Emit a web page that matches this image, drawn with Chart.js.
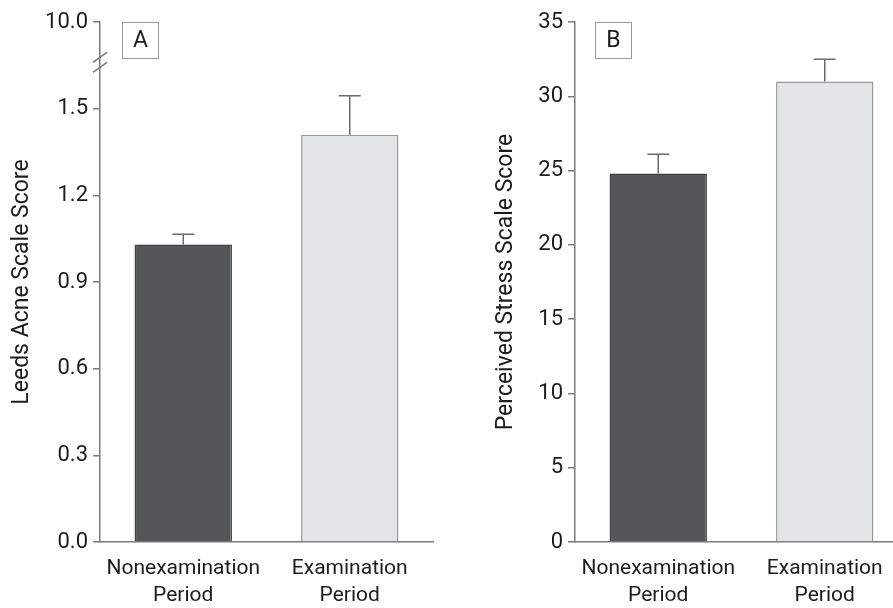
<!DOCTYPE html>
<html>
<head>
<meta charset="utf-8">
<script src="https://cdn.jsdelivr.net/npm/chart.js@4.4.1/dist/chart.umd.min.js"></script>
<style>
  html, body { margin: 0; padding: 0; background: #fff; overflow: hidden; }
  #wrap { position: relative; width: 893px; height: 608px; overflow: hidden; }
  #boxA { position: absolute; left: 0; top: 0; width: 450px; height: 608px; }
  #boxB { position: absolute; left: 450px; top: 0; width: 470px; height: 608px; }
</style>
</head>
<body>
<div id="wrap">
  <div id="boxA"><canvas id="chartA"></canvas></div>
  <div id="boxB"><canvas id="chartB"></canvas></div>
</div>
<script>
// data
const categories = [['Nonexamination', 'Period'], ['Examination', 'Period']];

const acneMeans = [1.03, 1.41];
const acneErrors = [0.035, 0.135];
const acneTickValues = [0, 0.3, 0.6, 0.9, 1.2, 1.5, 1.8];
const acneTickLabels = ['0.0', '0.3', '0.6', '0.9', '1.2', '1.5', '10.0'];
const acneBreakAt = 1.66;

const stressMeans = [24.8, 31.0];
const stressErrors = [1.3, 1.5];
const stressTickValues = [0, 5, 10, 15, 20, 25, 30, 35];
const stressTickLabels = ['0', '5', '10', '15', '20', '25', '30', '35'];

const FONT = 'Roboto, "DejaVu Sans Condensed", sans-serif';
const AXIS_COLOR = '#7a7a7a';
const TEXT_COLOR = '#1c1c1c';

// upper error whiskers with a cap
const errorBarPlugin = {
  id: 'errorBars',
  afterDatasetsDraw(chart, args, opts) {
    const ctx = chart.ctx;
    const yScale = chart.scales.y;
    const meta = chart.getDatasetMeta(0);
    const means = chart.data.datasets[0].data;
    ctx.save();
    ctx.strokeStyle = '#6a6a6a';
    ctx.lineWidth = 1.5;
    meta.data.forEach((bar, i) => {
      const yTop = yScale.getPixelForValue(means[i] + opts.errors[i]);
      ctx.beginPath();
      ctx.moveTo(bar.x, bar.y);
      ctx.lineTo(bar.x, yTop);
      ctx.moveTo(bar.x - 11, yTop);
      ctx.lineTo(bar.x + 11, yTop);
      ctx.stroke();
    });
    ctx.restore();
  }
};

// boxed panel letter
const panelLabelPlugin = {
  id: 'panelLabel',
  afterDraw(chart, args, opts) {
    if (!opts.text) return;
    const ctx = chart.ctx;
    const a = chart.chartArea;
    const x = a.left + opts.offset;
    const y = a.top;
    ctx.save();
    ctx.strokeStyle = '#9a9a9a';
    ctx.lineWidth = 1;
    ctx.strokeRect(x + 0.5, y + 0.5, 36, 36);
    ctx.fillStyle = TEXT_COLOR;
    ctx.font = '23px ' + FONT;
    ctx.textAlign = 'center';
    ctx.textBaseline = 'middle';
    ctx.fillText(opts.text, x + 18.5, y + 19.5);
    ctx.restore();
  }
};

// double slash on the y axis
const axisBreakPlugin = {
  id: 'axisBreak',
  afterDraw(chart, args, opts) {
    if (opts.at == null) return;
    const ctx = chart.ctx;
    const yScale = chart.scales.y;
    const x = chart.chartArea.left;
    const y = yScale.getPixelForValue(opts.at);
    ctx.save();
    ctx.strokeStyle = AXIS_COLOR;
    ctx.lineWidth = 1.5;
    [-5, 5].forEach(d => {
      ctx.beginPath();
      ctx.moveTo(x - 7, y + d + 5);
      ctx.lineTo(x + 7, y + d - 5);
      ctx.stroke();
    });
    ctx.restore();
  }
};

const makeChart = (canvasId, cfg) => {
  return new Chart(document.getElementById(canvasId), {
    type: 'bar',
    data: {
      labels: categories,
      datasets: [{
        data: cfg.means,
        backgroundColor: ['#545658', '#e2e4e6'],
        borderColor: ['#3f4143', '#9a9a9a'],
        borderWidth: 1.5,
        borderSkipped: 'bottom',
        categoryPercentage: 1,
        barPercentage: 0.585
      }]
    },
    options: {
      responsive: true,
      maintainAspectRatio: false,
      animation: false,
      layout: { padding: { top: cfg.padTop, right: cfg.padRight, left: 0, bottom: 0 } },
      plugins: {
        legend: { display: false },
        tooltip: { enabled: false },
        errorBars: { errors: cfg.errors },
        panelLabel: { text: cfg.letter, offset: cfg.letterOffset },
        axisBreak: { at: cfg.breakAt }
      },
      scales: {
        x: {
          grid: { display: false },
          border: { display: true, color: AXIS_COLOR, width: 1.5 },
          ticks: {
            color: TEXT_COLOR,
            font: { family: FONT, size: 21, lineHeight: 1.3 },
            padding: 5,
            maxRotation: 0,
            autoSkip: false
          },
          afterFit: (scale) => { scale.height = 66; }
        },
        y: {
          min: 0,
          max: cfg.tickValues[cfg.tickValues.length - 1],
          afterBuildTicks: (scale) => {
            scale.ticks = cfg.tickValues.map(v => ({ value: v }));
          },
          afterFit: (scale) => { scale.width = cfg.yWidth; },
          grid: {
            display: true,
            drawOnChartArea: false,
            drawTicks: true,
            tickLength: 7,
            color: AXIS_COLOR,
            lineWidth: 1.5
          },
          border: { display: true, color: AXIS_COLOR, width: 1.5 },
          ticks: {
            color: TEXT_COLOR,
            font: { family: FONT, size: 22 },
            padding: 5,
            callback: (value) => {
              const idx = cfg.tickValues.findIndex(v => Math.abs(v - value) < 1e-9);
              return idx >= 0 ? cfg.tickLabels[idx] : '';
            }
          },
          title: {
            display: true,
            text: cfg.title,
            color: TEXT_COLOR,
            font: { family: FONT, size: 23 },
            padding: { top: cfg.titlePad, bottom: 0 }
          }
        }
      }
    },
    plugins: [errorBarPlugin, panelLabelPlugin, axisBreakPlugin]
  });
};

makeChart('chartA', {
  means: acneMeans,
  errors: acneErrors,
  tickValues: acneTickValues,
  tickLabels: acneTickLabels,
  breakAt: acneBreakAt,
  title: 'Leeds Acne Scale Score',
  titlePad: 8,
  yWidth: 100,
  padTop: 22,
  padRight: 17,
  letter: 'A',
  letterOffset: 22
});

makeChart('chartB', {
  means: stressMeans,
  errors: stressErrors,
  tickValues: stressTickValues,
  tickLabels: stressTickLabels,
  breakAt: null,
  title: 'Perceived Stress Scale Score',
  titlePad: 42,
  yWidth: 125,
  padTop: 22,
  padRight: 12,
  letter: 'B',
  letterOffset: 20
});
</script>
</body>
</html>
